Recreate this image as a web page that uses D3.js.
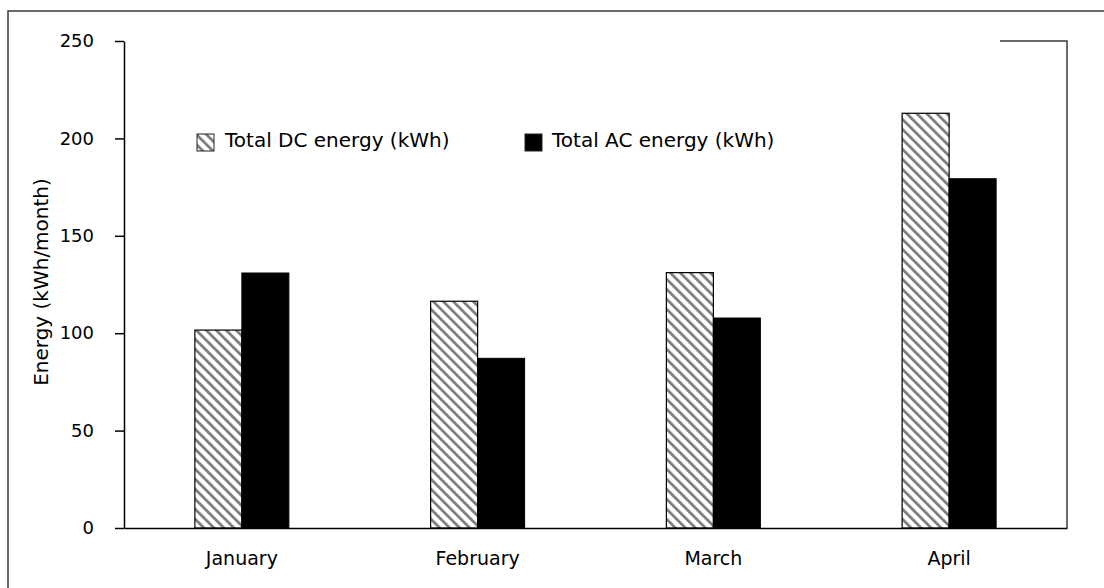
<!DOCTYPE html>
<html>
<head>
<meta charset="utf-8">
<script src="https://cdn.jsdelivr.net/npm/d3@7"></script>
<style>
  html, body { margin: 0; padding: 0; background: #fff; }
  svg { display: block; }
  text { font-family: "DejaVu Sans", "Noto Sans", sans-serif; fill: #000; }
</style>
</head>
<body>
<svg id="chart" width="1104" height="588"></svg>
<script>
// Monthly energy data
const months = ["January", "February", "March", "April"];
const dcEnergy = [101.6, 116.4, 131.1, 212.9];
const acEnergy = [130.9, 87.1, 107.8, 179.3];
const seriesNames = ["Total DC energy (kWh)", "Total AC energy (kWh)"];
const yTicks = [0, 50, 100, 150, 200, 250];

const svg = d3.select("#chart");
const plot = { left: 124, right: 1067, top: 41, bottom: 528 };
const FONT = "'DejaVu Sans', sans-serif";

// Diagonal hatch for the DC series
const defs = svg.append("defs");
const hatch = defs.append("pattern")
  .attr("id", "hatch")
  .attr("patternUnits", "userSpaceOnUse")
  .attr("width", 7.07)
  .attr("height", 10)
  .attr("patternTransform", "rotate(-45)");
hatch.append("rect").attr("width", 7.07).attr("height", 10).attr("fill", "#fff");
hatch.append("rect").attr("x", 0).attr("width", 2.8).attr("height", 10).attr("fill", "#7f7f7f");

// Outer frame
svg.append("path")
  .attr("d", "M8,588 L8,11 L1104,11")
  .attr("fill", "none").attr("stroke", "#3a3a3a").attr("stroke-width", 1.5);

// Plot frame pieces on the right side
svg.append("path")
  .attr("d", `M1000,${plot.top} L${plot.right},${plot.top} L${plot.right},${plot.bottom}`)
  .attr("fill", "none").attr("stroke", "#3a3a3a").attr("stroke-width", 1.5);

const x0 = d3.scaleBand().domain(months).range([plot.left, plot.right]).padding(0);
const x1 = d3.scaleBand().domain(["dc", "ac"]).range([0, x0.bandwidth()])
  .paddingInner(0).paddingOuter(1.508);
const y = d3.scaleLinear().domain([0, 250]).range([plot.bottom, plot.top]);

// Bars
const rows = months.map((m, i) => ({ month: m, dc: dcEnergy[i], ac: acEnergy[i] }));
const groups = svg.append("g").selectAll("g").data(rows).join("g")
  .attr("transform", d => `translate(${x0(d.month)},0)`);

groups.append("rect")
  .attr("x", x1("dc"))
  .attr("y", d => y(d.dc))
  .attr("width", x1.bandwidth())
  .attr("height", d => y(0) - y(d.dc))
  .attr("fill", "url(#hatch)")
  .attr("stroke", "#000").attr("stroke-width", 1.2);

groups.append("rect")
  .attr("x", x1("ac"))
  .attr("y", d => y(d.ac))
  .attr("width", x1.bandwidth())
  .attr("height", d => y(0) - y(d.ac))
  .attr("fill", "#000")
  .attr("stroke", "#000").attr("stroke-width", 1);

// Y axis
const yAxis = svg.append("g")
  .attr("transform", `translate(${plot.left},0)`)
  .call(d3.axisLeft(y).tickValues(yTicks).tickSize(9).tickSizeOuter(0).tickPadding(21));
yAxis.select(".domain").attr("stroke", "#000").attr("stroke-width", 1.5);
yAxis.selectAll(".tick line").attr("stroke", "#000").attr("stroke-width", 1.5);
yAxis.selectAll(".tick text")
  .style("font-family", FONT)
  .attr("font-size", 18).attr("fill", "#000");

// X axis line and month labels
const xAxis = svg.append("g")
  .attr("transform", `translate(0,${plot.bottom})`)
  .call(d3.axisBottom(x0).tickSize(0).tickPadding(24).tickSizeOuter(0));
xAxis.select(".domain").attr("stroke", "#000").attr("stroke-width", 1.5);
xAxis.selectAll(".tick text")
  .style("font-family", FONT)
  .attr("font-size", 19).attr("fill", "#000");

// Y title
svg.append("text")
  .attr("transform", "translate(48,282) rotate(-90)")
  .attr("text-anchor", "middle")
  .attr("font-size", 20)
  .text("Energy (kWh/month)");

// Legend
const legend = [
  { name: seriesNames[0], fill: "url(#hatch)", x: 197, tx: 225 },
  { name: seriesNames[1], fill: "#000", x: 525, tx: 552 }
];
const lg = svg.append("g").selectAll("g").data(legend).join("g");
lg.append("rect")
  .attr("x", d => d.x).attr("y", 134)
  .attr("width", 17).attr("height", 17)
  .attr("fill", d => d.fill)
  .attr("stroke", "#222").attr("stroke-width", 1);
lg.append("text")
  .attr("x", d => d.tx).attr("y", 147)
  .attr("font-size", 20)
  .text(d => d.name);
</script>
</body>
</html>
